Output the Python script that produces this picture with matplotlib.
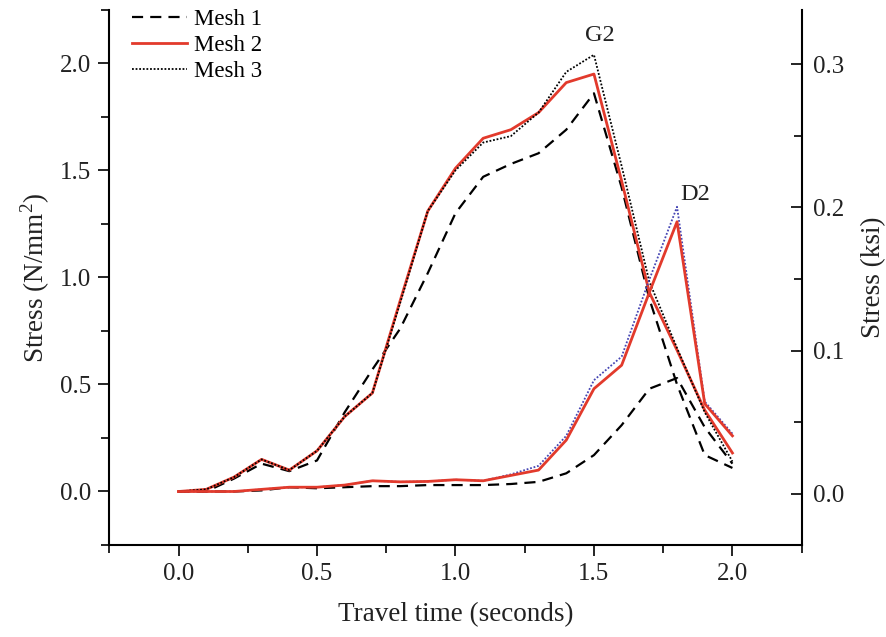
import numpy as np
import matplotlib
matplotlib.use("Agg")
import matplotlib.pyplot as plt
from matplotlib.ticker import MultipleLocator

plt.rcParams['font.family'] = ['Liberation Serif', 'DejaVu Serif']
plt.rcParams['mathtext.fontset'] = 'custom'
plt.rcParams['mathtext.rm'] = 'Liberation Serif'

# travel time (s)
t = np.round(np.arange(0, 2.01, 0.1), 1)

# G2 gauge, N/mm^2
mesh1_g2 = [0, 0, 0.06, 0.13, 0.095, 0.145, 0.37, 0.57, 0.76, 1.02, 1.30,
            1.47, 1.53, 1.58, 1.69, 1.86, 1.42, 0.90, 0.50, 0.17, 0.11]
mesh2_g2 = [0, 0.01, 0.067, 0.15, 0.10, 0.19, 0.35, 0.46, 0.89, 1.31, 1.51,
            1.65, 1.69, 1.77, 1.91, 1.95, 1.45, 0.93, 0.66, 0.38, 0.18]
mesh3_g2 = [0, 0.01, 0.067, 0.15, 0.10, 0.19, 0.35, 0.46, 0.88, 1.31, 1.50,
            1.63, 1.66, 1.77, 1.96, 2.04, 1.52, 0.98, 0.67, 0.37, 0.14]

# D2 gauge, N/mm^2
mesh1_d2 = [0, 0, 0, 0.005, 0.02, 0.015, 0.02, 0.025, 0.025, 0.03, 0.03,
            0.03, 0.035, 0.045, 0.085, 0.17, 0.31, 0.48, 0.53, 0.30, 0.13]
mesh2_d2 = [0, 0, 0, 0.01, 0.02, 0.02, 0.03, 0.05, 0.045, 0.047, 0.055,
            0.05, 0.075, 0.10, 0.24, 0.48, 0.59, 0.93, 1.26, 0.41, 0.26]
mesh3_d2 = [0, 0, 0, 0.01, 0.02, 0.02, 0.03, 0.05, 0.045, 0.047, 0.055,
            0.05, 0.08, 0.12, 0.26, 0.52, 0.63, 0.99, 1.33, 0.42, 0.27]

red = '#e23a2c'
navy = '#4646b4'
ink = '#222222'

fig = plt.figure(figsize=(8.87, 6.37), dpi=100)
ax = fig.add_axes([0.1232, 0.1444, 0.7806, 0.8402])

ax.plot(t, mesh1_g2, color='black', lw=1.6, dashes=(5, 3.2), label='Mesh 1')
ax.plot(t, mesh2_g2, color=red, lw=2.0, label='Mesh 2')
ax.plot(t, mesh3_g2, color='black', lw=1.3, ls=(0, (1, 1)), label='Mesh 3')

ax.plot(t, mesh1_d2, color='black', lw=1.6, dashes=(5, 3.2))
ax.plot(t, mesh3_d2, color=navy, lw=1.3, ls=(0, (1, 1)))
ax.plot(t, mesh2_d2, color=red, lw=2.0)

ax.text(1.52, 2.13, 'G2', fontsize=17.5, color=ink, ha='center', va='center')
ax.text(1.867, 1.385, 'D2', fontsize=17.5, color=ink, ha='center', va='center')

ax.set_xlim(-0.25, 2.25)
ax.set_ylim(-0.25, 2.25)
ax.xaxis.set_minor_locator(MultipleLocator(0.25))
ax.yaxis.set_minor_locator(MultipleLocator(0.25))
ax.set_xticks([0, 0.5, 1.0, 1.5, 2.0])
ax.set_yticks([0, 0.5, 1.0, 1.5, 2.0])

for side in ['top', 'right']:
    ax.spines[side].set_visible(False)
for side in ['left', 'bottom']:
    ax.spines[side].set_linewidth(1.5)

ax.tick_params(which='major', direction='out', length=8, width=1.2,
               labelsize=18, labelcolor=ink, pad=5)
ax.tick_params(which='minor', direction='out', length=6, width=1.2)

ax.set_xlabel('Travel time (seconds)', fontsize=19.5, color=ink, labelpad=12)
ax.set_ylabel(r'Stress (N/mm$^\mathregular{2}$)', fontsize=19.5, color=ink,
              labelpad=6)

# secondary axis in ksi
ax2 = ax.twinx()
ax2.set_ylim(-0.0357, 0.338)
ax2.yaxis.set_major_locator(MultipleLocator(0.1))
ax2.yaxis.set_minor_locator(MultipleLocator(0.05))
for side in ['top', 'left', 'bottom']:
    ax2.spines[side].set_visible(False)
ax2.spines['right'].set_linewidth(1.5)
ax2.tick_params(which='major', direction='in', length=8, width=1.2,
                labelsize=18, labelcolor=ink, pad=8)
ax2.tick_params(which='minor', direction='in', length=6, width=1.2)
ax2.set_ylabel('Stress (ksi)', fontsize=19.5, color=ink, labelpad=12)

ax.legend(loc='upper left', bbox_to_anchor=(0.03, 1.005), frameon=False,
          fontsize=16.5, handlelength=2.4, handletextpad=0.3,
          labelspacing=0.2, borderpad=0.1, borderaxespad=0)

fig.savefig('out.png', dpi=100)
